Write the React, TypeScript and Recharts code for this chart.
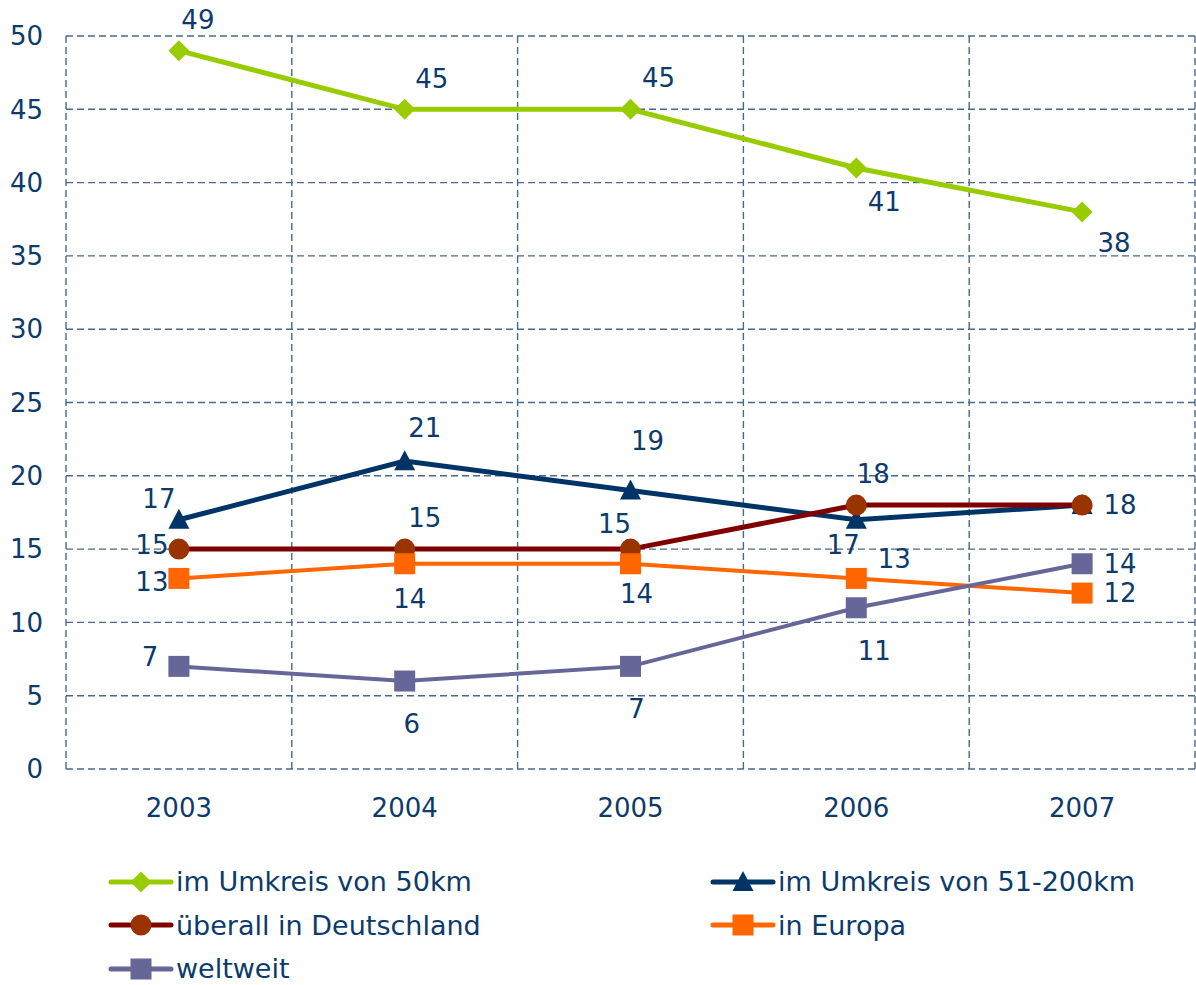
import React from 'react';
import { LineChart, Line, XAxis, YAxis, CartesianGrid, LabelList } from 'recharts';

const categories = ['2003', '2004', '2005', '2006', '2007'];
const umkreis50 = [49, 45, 45, 41, 38];
const umkreis200 = [17, 21, 19, 17, 18];
const deutschland = [15, 15, 15, 18, 18];
const europa = [13, 14, 14, 13, 12];
const weltweit = [7, 6, 7, 11, 14];
const yTicks = [0, 5, 10, 15, 20, 25, 30, 35, 40, 45, 50];

const TEXT = '#0c3b6b';
const FONT = '"DejaVu Sans", Verdana, sans-serif';

const data = categories.map((year, i) => ({
  x: i,
  year,
  u50: umkreis50[i],
  u200: umkreis200[i],
  de: deutschland[i],
  eu: europa[i],
  ww: weltweit[i],
}));

type Shape = 'diamond' | 'triangle' | 'circle' | 'square';

// label offsets (dx, dy) per point, null = no label
const series: {
  key: string;
  name: string;
  line: string;
  marker: string;
  shape: Shape;
  width: number;
  labels: ([number, number] | null)[];
}[] = [
  { key: 'u50', name: 'im Umkreis von 50km', line: '#99cc00', marker: '#99cc00', shape: 'diamond', width: 5,
    labels: [[19, -31], [27, -30], [28, -31], [28, 34], [32, 31]] },
  { key: 'u200', name: 'im Umkreis von 51-200km', line: '#003366', marker: '#003366', shape: 'triangle', width: 5,
    labels: [[-20, -21], [20, -33], [17, -49], [-13, 25], null] },
  { key: 'de', name: 'überall in Deutschland', line: '#800000', marker: '#993300', shape: 'circle', width: 5,
    labels: [[-27, -4], [20, -31], [-16, -25], [17, -31], [38, 0]] },
  { key: 'eu', name: 'in Europa', line: '#ff6600', marker: '#ff6600', shape: 'square', width: 4,
    labels: [[-27, 4], [5, 35], [6, 30], [38, -19], [38, 0]] },
  { key: 'ww', name: 'weltweit', line: '#666699', marker: '#666699', shape: 'square', width: 4,
    labels: [[-29, -9], [7, 43], [6, 43], [18, 43], [38, 0]] },
];

const Marker = ({ cx, cy, shape, color }: { cx: number; cy: number; shape: Shape; color: string }) => {
  if (shape === 'diamond') {
    const r = 10.5;
    return <polygon points={`${cx},${cy - r} ${cx + r},${cy} ${cx},${cy + r} ${cx - r},${cy}`} fill={color} />;
  }
  if (shape === 'triangle') {
    return <polygon points={`${cx},${cy - 11} ${cx + 10.5},${cy + 9} ${cx - 10.5},${cy + 9}`} fill={color} />;
  }
  if (shape === 'circle') {
    return <circle cx={cx} cy={cy} r={10.5} fill={color} />;
  }
  return <rect x={cx - 10.5} y={cy - 10.5} width={21} height={21} fill={color} />;
};

const Legend = () => (
  <div
    style={{
      position: 'absolute',
      left: 108,
      top: 860,
      display: 'grid',
      gridTemplateColumns: '602px auto',
      fontFamily: FONT,
      fontSize: 27,
      color: TEXT,
    }}
  >
    {series.map((s) => (
      <div key={s.key} style={{ display: 'flex', alignItems: 'center', height: 43.5 }}>
        <svg width={66} height={26} style={{ marginRight: 2 }}>
          <line x1={3} y1={13} x2={63} y2={13} stroke={s.line} strokeWidth={5} strokeLinecap="round" />
          <Marker cx={33} cy={13} shape={s.shape} color={s.marker} />
        </svg>
        <span>{s.name}</span>
      </div>
    ))}
  </div>
);

export default function App() {
  return (
    <div style={{ position: 'absolute', left: 0, top: 0, width: 1196, height: 985, background: '#fff' }}>
      <LineChart width={1196} height={985} data={data} margin={{ top: 36, right: 1, left: 0, bottom: 156 }}>
        <CartesianGrid
          stroke="#48698e"
          strokeWidth={1.4}
          strokeDasharray="7 4"
          verticalCoordinatesGenerator={({ offset }: any) =>
            [0, 1, 2, 3, 4, 5].map((i) => offset.left + (offset.width * i) / categories.length)
          }
        />
        <XAxis
          dataKey="x"
          type="number"
          domain={[-0.5, categories.length - 0.5]}
          ticks={categories.map((_, i) => i)}
          tickFormatter={(v: number) => categories[v]}
          axisLine={false}
          tickLine={false}
          tickSize={0}
          tickMargin={30}
          height={60}
          tick={{ fill: TEXT, fontSize: 26, fontFamily: FONT }}
        />
        <YAxis
          type="number"
          domain={[0, 50]}
          ticks={yTicks}
          axisLine={false}
          tickLine={false}
          tickSize={0}
          tickMargin={23}
          width={66}
          tick={{ fill: TEXT, fontSize: 26, fontFamily: FONT }}
        />
        {series.map((s) => (
          <Line
            key={s.key}
            dataKey={s.key}
            name={s.name}
            stroke={s.line}
            strokeWidth={s.width}
            isAnimationActive={false}
            activeDot={false}
            dot={(p: any) => (
              <Marker key={`${s.key}-${p.index}`} cx={p.cx} cy={p.cy} shape={s.shape} color={s.marker} />
            )}
          >
            <LabelList
              dataKey={s.key}
              content={(p: any) => {
                const off = s.labels[p.index];
                if (!off) return null;
                return (
                  <text
                    x={p.x + off[0]}
                    y={p.y + off[1]}
                    textAnchor="middle"
                    dominantBaseline="central"
                    fill={TEXT}
                    fontSize={26}
                    fontFamily={FONT}
                  >
                    {p.value}
                  </text>
                );
              }}
            />
          </Line>
        ))}
      </LineChart>
      <Legend />
    </div>
  );
}
